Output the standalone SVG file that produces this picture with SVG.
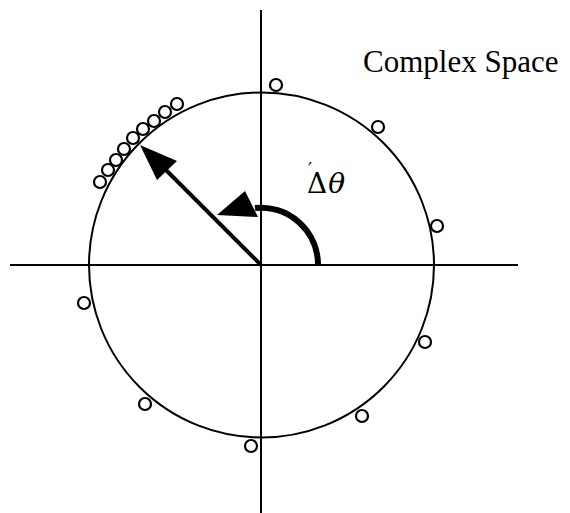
<svg xmlns="http://www.w3.org/2000/svg" width="570" height="513" viewBox="0 0 570 513">
<style>
.ax{stroke:#000;stroke-width:2;fill:none}
.pt{stroke:#000;stroke-width:2.2;fill:#fff}
.lbl{font-family:"Liberation Serif",serif;fill:#000}
.sym{font-family:"DejaVu Serif","Liberation Serif",serif;fill:#000}
</style>
<rect width="570" height="513" fill="#fff"/>
<g id="axes">
<line class="ax" x1="261" y1="10" x2="261" y2="513"/>
<line class="ax" x1="10" y1="265" x2="518" y2="265"/>
</g>
<g id="unit-circle">
<circle class="ax" cx="261.5" cy="265" r="172.5" stroke-width="2.5"/>
</g>
<g id="points">
<circle class="pt" cx="276" cy="85" r="6"/>
<circle class="pt" cx="378" cy="127" r="6"/>
<circle class="pt" cx="437" cy="226" r="6"/>
<circle class="pt" cx="425" cy="342" r="6"/>
<circle class="pt" cx="362" cy="416" r="6"/>
<circle class="pt" cx="251" cy="446" r="6"/>
<circle class="pt" cx="145" cy="404" r="6"/>
<circle class="pt" cx="84" cy="303" r="6"/>
</g>
<g id="cluster">
<circle class="pt" cx="100" cy="182" r="6"/>
<circle class="pt" cx="108" cy="170" r="6"/>
<circle class="pt" cx="116" cy="160" r="6"/>
<circle class="pt" cx="124" cy="149" r="6"/>
<circle class="pt" cx="133" cy="138" r="6"/>
<circle class="pt" cx="143" cy="129" r="6"/>
<circle class="pt" cx="154" cy="121" r="6"/>
<circle class="pt" cx="165" cy="112" r="6"/>
<circle class="pt" cx="177" cy="104" r="6"/>
</g>
<g id="connectors">
<line x1="261" y1="265" x2="162" y2="166" stroke="#000" stroke-width="4"/>
<polygon points="140,145 177,161 157,180" fill="#000"/>
<path d="M318,265 A57,57 0 0 0 255,208" fill="none" stroke="#000" stroke-width="6"/>
<polygon points="217,215 245,191 258,217" fill="#000"/>
</g>
<g id="labels">
<text class="lbl" x="363" y="72" font-size="31">Complex Space</text>
<text class="sym" x="307" y="193" font-size="28"><tspan x="308" y="176" font-size="18">′</tspan><tspan x="307" y="193">Δ</tspan><tspan font-style="italic" dx="1">θ</tspan></text>
</g>
</svg>
